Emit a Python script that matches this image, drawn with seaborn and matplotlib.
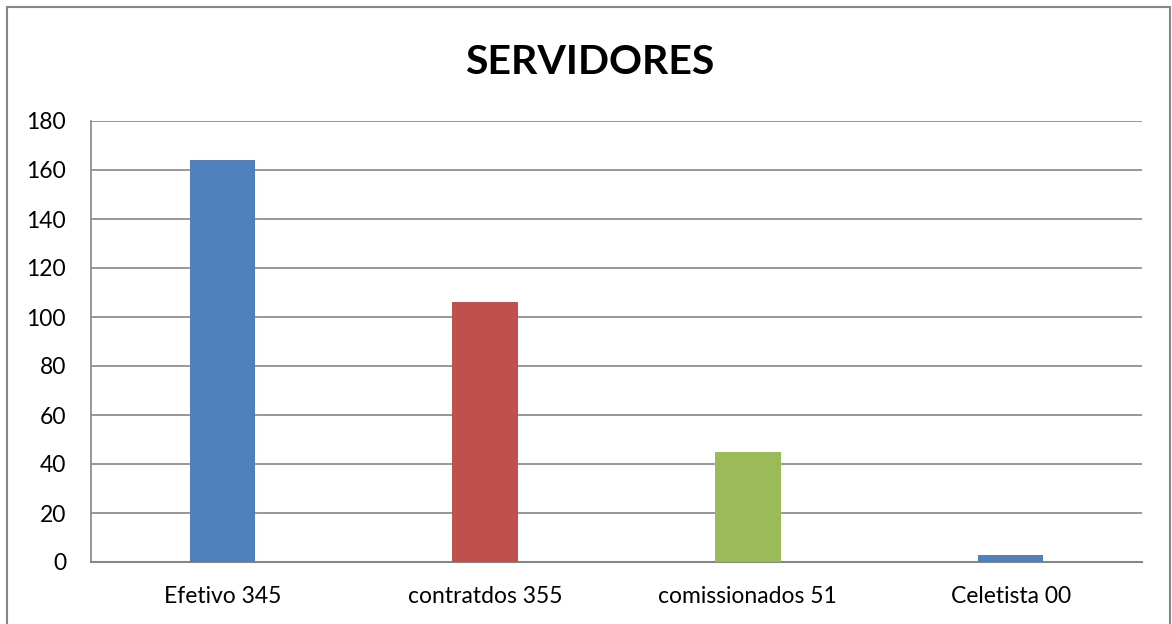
import pandas as pd
import matplotlib.pyplot as plt
import seaborn as sns
from matplotlib.patches import Rectangle

# data
categories = ["Efetivo 345", "contratdos 355", "comissionados 51", "Celetista 00"]
values = [164, 106, 45, 3]
colors = ["#4F81BD", "#C0504D", "#9BBB59", "#4F81BD"]

df = pd.DataFrame({"categoria": categories, "valor": values})

sns.set_style("white")
plt.rcParams['font.family'] = ['Lato', 'DejaVu Sans']
plt.rcParams['text.color'] = 'black'

fig = plt.figure(figsize=(11.72, 6.24), dpi=100)
ax = fig.add_axes([91 / 1172, 62 / 624, 1051 / 1172, 441 / 624])

sns.barplot(data=df, x="categoria", y="valor", hue="categoria", palette=colors,
            width=0.25, saturation=1, legend=False, ax=ax, zorder=3,
            linewidth=0, edgecolor="none")

ax.set_ylim(0, 180)
ax.set_yticks(range(0, 181, 20))
ax.set_xlim(-0.5, 3.5)
ax.yaxis.grid(True, color="#868686", linewidth=1.2, zorder=0)
ax.set_axisbelow(True)
ax.set_xlabel("")
ax.set_ylabel("")
ax.tick_params(axis="both", labelsize=16.5, length=0, colors="black")
ax.tick_params(axis="x", pad=17)
ax.tick_params(axis="y", pad=18)

for side in ["top", "right"]:
    ax.spines[side].set_visible(False)
ax.spines["left"].set_color("#868686")
ax.spines["bottom"].set_color("#868686")
ax.spines["left"].set_linewidth(1.2)
ax.spines["bottom"].set_linewidth(1.5)

fig.text(590 / 1172, 1 - 62 / 624, "SERVIDORES", ha="center", va="center",
         fontsize=29.5, fontweight="bold", color="black")

# outer chart border
fig.patches.append(Rectangle((7 / 1172, -0.05), 1163 / 1172, 1 - 7 / 624 + 0.05,
                             transform=fig.transFigure, fill=False,
                             edgecolor="#868686", linewidth=1.5))

fig.savefig("out.png", dpi=100)
